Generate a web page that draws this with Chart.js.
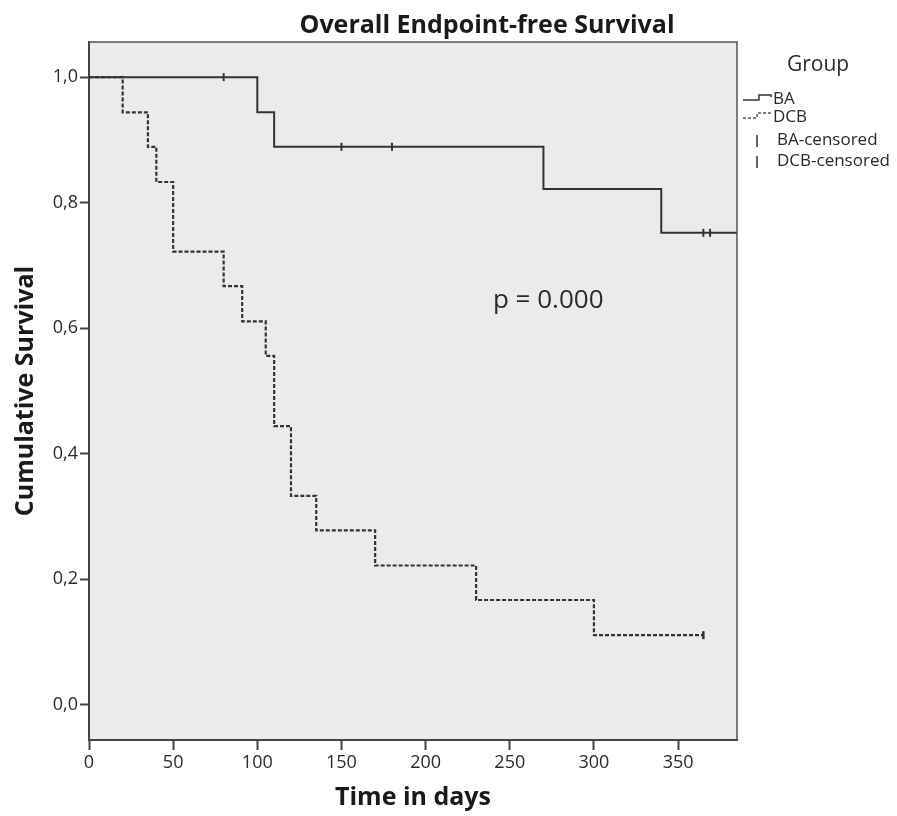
<!DOCTYPE html>
<html><head><meta charset="utf-8">
<script src="https://cdn.jsdelivr.net/npm/chart.js@4.4.0/dist/chart.umd.min.js"></script>
<style>html,body{margin:0;padding:0;background:#fff}#wrap{width:897px;height:816px}</style>
</head><body><div id="wrap"><canvas id="c" width="897" height="816"></canvas></div>
<script>
// ---- data ----
const chartTitle = 'Overall Endpoint-free Survival';
const xTitle = 'Time in days';
const yTitle = 'Cumulative Survival';
const pText = 'p = 0.000';
const legendTitle = 'Group';
const groups = ['BA', 'DCB', 'BA-censored', 'DCB-censored'];

const baTimes = [0, 100, 110, 270, 340, 385];
const baSurvival = [1.0, 0.944, 0.889, 0.822, 0.752, 0.752];
const dcbTimes = [0, 20, 35, 40, 50, 80, 91, 105, 110, 120, 135, 170, 230, 300, 365];
const dcbSurvival = [1.0, 0.944, 0.889, 0.833, 0.722, 0.667, 0.611, 0.556, 0.444, 0.333, 0.278, 0.222, 0.167, 0.111, 0.111];
const baCensoredTimes = [80, 150, 180, 365, 369];
const baCensoredSurvival = [1.0, 0.889, 0.889, 0.752, 0.752];
const dcbCensoredTimes = [365];
const dcbCensoredSurvival = [0.111];

const xTicks = [0, 50, 100, 150, 200, 250, 300, 350];
const yTicks = [0, 0.2, 0.4, 0.6, 0.8, 1.0];
const yTickLabels = ['0,0', '0,2', '0,4', '0,6', '0,8', '1,0'];

// ---- build ----
const pts = (xs, ys) => xs.map((x, i) => ({x: x, y: ys[i]}));
const FONT = "'Open Sans', 'DejaVu Sans', sans-serif";

const decor = {
  id: 'decor',
  beforeDraw(chart) {
    const {ctx, chartArea: a} = chart;
    ctx.save();
    ctx.fillStyle = '#ebebeb';
    ctx.fillRect(a.left, a.top, a.right - a.left, a.bottom - a.top);
    ctx.restore();
  },
  afterDraw(chart) {
    const {ctx, chartArea: a, scales} = chart;
    ctx.save();
    // top / right frame
    ctx.strokeStyle = '#555';
    ctx.lineWidth = 1.5;
    ctx.beginPath();
    ctx.moveTo(a.left, a.top);
    ctx.lineTo(a.right, a.top);
    ctx.lineTo(a.right, a.bottom);
    ctx.stroke();
    // title
    ctx.fillStyle = '#1a1a1a';
    ctx.font = 'bold 25px ' + FONT;
    ctx.textAlign = 'center';
    ctx.textBaseline = 'alphabetic';
    ctx.fillText(chartTitle, 487, 33);
    // p value
    ctx.fillStyle = '#2a2a2a';
    ctx.font = '26px ' + FONT;
    ctx.textAlign = 'left';
    ctx.fillText(pText, scales.x.getPixelForValue(240), scales.y.getPixelForValue(0.632));
    // legend
    ctx.fillStyle = '#2a2a2a';
    ctx.font = '21px ' + FONT;
    ctx.textBaseline = 'middle';
    ctx.fillText(legendTitle, 787, 65);
    ctx.font = '17px ' + FONT;
    ctx.fillText(groups[0], 773, 99);
    ctx.fillText(groups[1], 773, 117);
    ctx.fillText(groups[2], 777, 140);
    ctx.fillText(groups[3], 777, 161);
    ctx.strokeStyle = '#333';
    ctx.lineWidth = 1.5;
    ctx.beginPath();
    ctx.moveTo(743, 100); ctx.lineTo(759, 100); ctx.lineTo(759, 95); ctx.lineTo(771, 95); ctx.lineTo(771, 97);
    ctx.stroke();
    ctx.setLineDash([3, 2]);
    ctx.strokeStyle = '#555';
    ctx.beginPath();
    ctx.moveTo(743, 118); ctx.lineTo(757, 118); ctx.lineTo(757, 113); ctx.lineTo(770, 113); ctx.lineTo(770, 115);
    ctx.stroke();
    ctx.setLineDash([]);
    ctx.strokeStyle = '#333';
    ctx.beginPath();
    ctx.moveTo(757, 135); ctx.lineTo(757, 147);
    ctx.moveTo(757, 156); ctx.lineTo(757, 168);
    ctx.stroke();
    ctx.restore();
  }
};

new Chart(document.getElementById('c'), {
  type: 'line',
  data: {
    datasets: [
      {label: groups[0], data: pts(baTimes, baSurvival), stepped: true, borderColor: '#333', borderWidth: 2, pointRadius: 0, fill: false},
      {label: groups[1], data: pts(dcbTimes, dcbSurvival), stepped: true, borderColor: '#333', borderWidth: 2.2, borderDash: [4, 2], pointRadius: 0, fill: false},
      {label: groups[2], data: pts(baCensoredTimes, baCensoredSurvival), showLine: false, pointStyle: 'line', rotation: 90, pointRadius: 4, pointBorderWidth: 2, borderColor: '#333', backgroundColor: '#333'},
      {label: groups[3], data: pts(dcbCensoredTimes, dcbCensoredSurvival), showLine: false, pointStyle: 'line', rotation: 90, pointRadius: 4, pointBorderWidth: 2.5, borderColor: '#333', backgroundColor: '#333'}
    ]
  },
  options: {
    responsive: false,
    animation: false,
    layout: {padding: {top: 42, right: 160, bottom: 0, left: 0}},
    plugins: {legend: {display: false}, tooltip: {enabled: false}, title: {display: false}},
    scales: {
      x: {
        type: 'linear', min: 0, max: 385,
        afterBuildTicks: s => { s.ticks = xTicks.map(v => ({value: v})); },
        afterFit: s => { s.height = 76; },
        ticks: {color: '#2a2a2a', font: {family: FONT, size: 18}, padding: 2, maxRotation: 0, autoSkip: false},
        grid: {drawOnChartArea: false, drawTicks: true, tickLength: 10, tickColor: '#444', tickWidth: 2},
        border: {display: true, color: '#444', width: 2},
        title: {display: true, text: xTitle, color: '#1a1a1a', font: {family: FONT, size: 25, weight: 'bold'}, padding: {top: 0, bottom: 3}}
      },
      y: {
        type: 'linear', min: -0.056, max: 1.056,
        afterBuildTicks: s => { s.ticks = yTicks.map(v => ({value: v})); },
        afterFit: s => { s.width = 89; },
        ticks: {color: '#2a2a2a', font: {family: FONT, size: 18}, padding: 2,
          callback: v => { const i = yTicks.findIndex(t => Math.abs(t - v) < 1e-9); return i >= 0 ? yTickLabels[i] : ''; }},
        grid: {drawOnChartArea: false, drawTicks: true, tickLength: 9, tickColor: '#444', tickWidth: 2},
        border: {display: true, color: '#444', width: 2},
        title: {display: true, text: yTitle, color: '#1a1a1a', font: {family: FONT, size: 25, weight: 'bold'}, padding: {top: 11, bottom: 0}}
      }
    }
  },
  plugins: [decor]
});
</script>
</body></html>
